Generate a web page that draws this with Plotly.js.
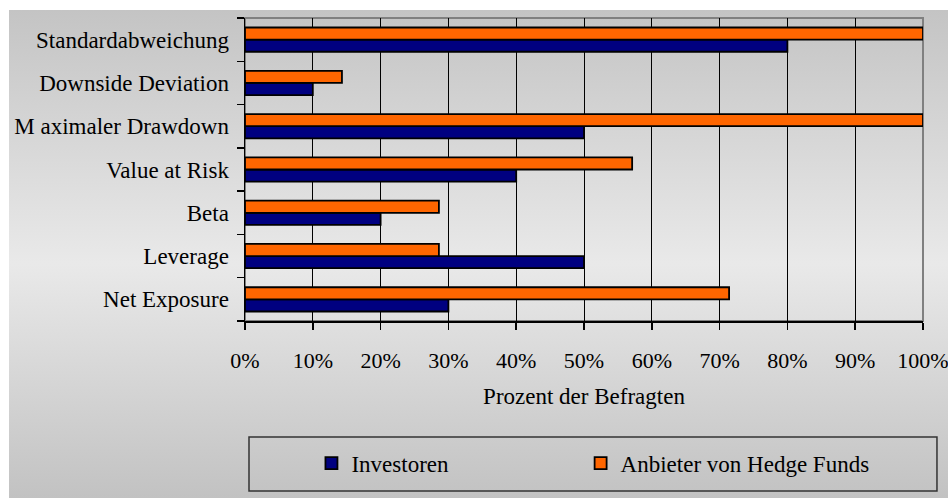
<!DOCTYPE html>
<html>
<head>
<meta charset="utf-8">
<script src="https://cdn.plot.ly/plotly-3.0.1.min.js"></script>
<style>
  html, body { margin: 0; padding: 0; background: #ffffff; }
  #wrap { position: relative; width: 948px; height: 498px; overflow: hidden; }
  #bg { position: absolute; left: 9px; top: 10px; width: 939px; height: 488px;
        background: linear-gradient(to bottom, #c4c4c4 0%, #e9e9e9 52%, #c2c2c2 100%); }
  #chart { position: absolute; left: 0; top: 0; width: 948px; height: 498px; }
</style>
</head>
<body>
<div id="wrap">
  <div id="bg"></div>
  <div id="chart"></div>
</div>
<script>
// Categories listed top to bottom as in the chart
const categories = [
  "Standardabweichung",
  "Downside Deviation",
  "M aximaler Drawdown",
  "Value at Risk",
  "Beta",
  "Leverage",
  "Net Exposure"
];
const investoren = [0.80, 0.10, 0.50, 0.40, 0.20, 0.50, 0.30];
const anbieter   = [1.00, 0.143, 1.00, 0.571, 0.286, 0.286, 0.714];
const xTickVals  = [0, 0.1, 0.2, 0.3, 0.4, 0.5, 0.6, 0.7, 0.8, 0.9, 1.0];
const xTickText  = ["0%", "10%", "20%", "30%", "40%", "50%", "60%", "70%", "80%", "90%", "100%"];
const seriesNames = ["Investoren", "Anbieter von Hedge Funds"];
const axisTitle = "Prozent der Befragten";

// Plotly draws categories bottom-up, so feed them reversed
const catsBU = categories.slice().reverse();
const invBU = investoren.slice().reverse();
const anbBU = anbieter.slice().reverse();

const FONT = "Liberation Serif";

const traces = [
  {
    type: "bar", orientation: "h", name: seriesNames[0],
    y: catsBU, x: invBU, legend: "legend",
    marker: { color: "#000080", line: { color: "#000000", width: 1.8 } },
    hoverinfo: "skip"
  },
  {
    type: "bar", orientation: "h", name: seriesNames[1],
    y: catsBU, x: anbBU, legend: "legend2",
    marker: { color: "#FF6600", line: { color: "#000000", width: 1.8 } },
    hoverinfo: "skip"
  }
];

const legendBase = {
  orientation: "h",
  xanchor: "left",
  y: -0.469, yanchor: "middle",
  bgcolor: "rgba(0,0,0,0)",
  borderwidth: 0,
  font: { family: FONT, size: 23, color: "#000000" }
};

const layout = {
  width: 948, height: 498,
  margin: { l: 245, r: 25, t: 18, b: 177, pad: 0 },
  paper_bgcolor: "rgba(0,0,0,0)",
  plot_bgcolor: "rgba(0,0,0,0)",
  font: { family: FONT, color: "#000000", size: 22 },
  barmode: "group",
  bargap: 0.44,
  bargroupgap: 0,
  showlegend: true,
  legend: Object.assign({}, legendBase, { x: 0.098 }),
  legend2: Object.assign({}, legendBase, { x: 0.495 }),
  xaxis: {
    range: [0, 1],
    tickvals: xTickVals,
    ticktext: xTickText,
    showgrid: true, gridcolor: "#000000", gridwidth: 1,
    zeroline: false,
    showline: true, linecolor: "#000000", linewidth: 1.5,
    ticks: "outside", ticklen: 7, tickcolor: "#000000", tickwidth: 1.5,
    ticklabeloverflow: "allow",
    ticklabelstandoff: 12,
    tickfont: { family: FONT, size: 22, color: "#000000" },
    title: { text: axisTitle, font: { family: FONT, size: 23, color: "#000000" }, standoff: 16 },
    fixedrange: true
  },
  yaxis: {
    type: "category",
    showgrid: false, zeroline: false,
    showline: true, linecolor: "#000000", linewidth: 1.5,
    ticks: "outside", ticklen: 7, tickcolor: "#000000", tickwidth: 1.5,
    tickson: "boundaries",
    tickfont: { family: FONT, size: 23, color: "#000000" },
    ticklabelstandoff: 10,
    fixedrange: true
  },
  shapes: [
    { type: "rect", xref: "paper", yref: "paper", x0: 0, x1: 1, y0: 0, y1: 1,
      line: { color: "#808080", width: 2 }, fillcolor: "rgba(0,0,0,0)", layer: "between" },
    { type: "rect", xref: "paper", yref: "paper", x0: 0.0059, x1: 1.0206, y0: -0.561, y1: -0.383,
      line: { color: "#333333", width: 1.5 }, fillcolor: "rgba(0,0,0,0)", layer: "below" }
  ]
};

Plotly.newPlot("chart", traces, layout, { displayModeBar: false, staticPlot: true });
</script>
</body>
</html>
